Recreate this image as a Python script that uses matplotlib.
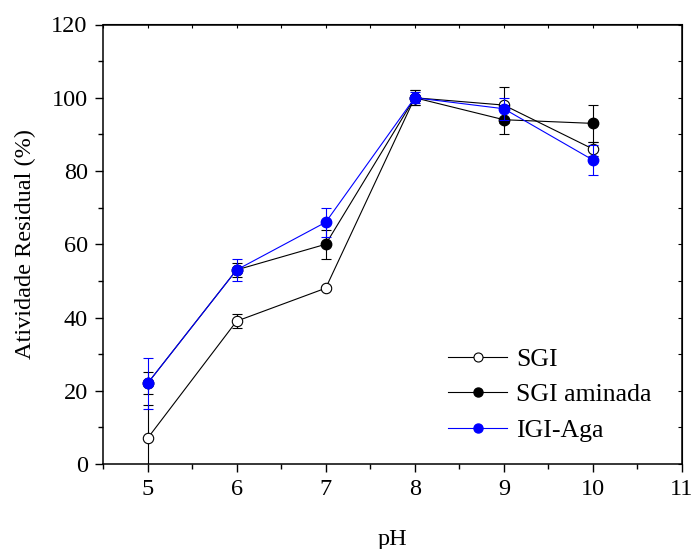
import matplotlib.pyplot as plt
from matplotlib.lines import Line2D
from matplotlib.ticker import MultipleLocator

plt.rcParams['font.family'] = ['Liberation Serif', 'DejaVu Serif']

# Dados
ph = [5, 6, 7, 8, 9, 10]

sgi = [7, 39, 48, 100, 98, 86]
sgi_err = [9, 2, 0.5, 2, 5, 2]

sgi_amin = [22, 53, 60, 100, 94, 93]
sgi_amin_err = [3, 2, 4, 2, 4, 5]

igi_aga = [22, 53, 66, 100, 97, 83]
igi_aga_err = [7, 3, 4, 1.5, 3, 4]

labels = ['SGI', 'SGI aminada', 'IGI-Aga']
BLUE = '#0000ff'

fig = plt.figure(figsize=(6.94, 5.49), dpi=100)
ax = fig.add_axes([103 / 694, 85 / 549, 579 / 694, 439.5 / 549])

common = dict(capsize=3.5, elinewidth=0.8, capthick=0.8, linewidth=0.8,
              markersize=7.5)

ax.errorbar(ph, sgi, yerr=sgi_err, color='black', marker='o',
            markerfacecolor='white', markeredgecolor='black',
            markeredgewidth=0.8, zorder=3, **common)
ax.errorbar(ph, sgi_amin, yerr=sgi_amin_err, color='black', marker='o',
            markerfacecolor='black', markeredgecolor='black',
            zorder=4, **common)
ax.errorbar(ph, igi_aga, yerr=igi_aga_err, color=BLUE, marker='o',
            markerfacecolor=BLUE, markeredgecolor=BLUE,
            zorder=5, **common)

ax.set_xlim(4.5, 11)
ax.set_ylim(0, 120)
ax.xaxis.set_major_locator(MultipleLocator(1))
ax.xaxis.set_minor_locator(MultipleLocator(0.5))
ax.yaxis.set_major_locator(MultipleLocator(20))
ax.yaxis.set_minor_locator(MultipleLocator(10))

ax.tick_params(which='both', direction='out', top=False, right=False,
               labelsize=17.5, width=1)
ax.tick_params(which='major', length=6, pad=5)
ax.tick_params(which='minor', length=3.5)

# ticks internos discretos no topo e à direita
sec_x = ax.secondary_xaxis('top')
sec_x.xaxis.set_major_locator(MultipleLocator(0.5))
sec_x.tick_params(direction='in', length=3, labeltop=False, width=0.8)
sec_y = ax.secondary_yaxis('right')
sec_y.yaxis.set_major_locator(MultipleLocator(10))
sec_y.tick_params(direction='in', length=3, labelright=False, width=0.8)

for s in ax.spines.values():
    s.set_linewidth(1.1)

ax.set_xlabel('pH', fontsize=17.5, labelpad=21)
ax.set_ylabel('Atividade Residual (%)', fontsize=17.5, labelpad=11)

# legenda só com linha + marcador (sem barras de erro)
handles = [
    Line2D([], [], color='black', lw=0.8, marker='o', markersize=6.5,
           markerfacecolor='white', markeredgecolor='black', markeredgewidth=0.8),
    Line2D([], [], color='black', lw=0.8, marker='o', markersize=6.5,
           markerfacecolor='black', markeredgecolor='black'),
    Line2D([], [], color=BLUE, lw=0.8, marker='o', markersize=6.5,
           markerfacecolor=BLUE, markeredgecolor=BLUE),
]
fig.legend(handles, labels, loc='upper left',
           bbox_to_anchor=(448 / 694, 1 - 348 / 549),
           frameon=False, fontsize=18.5, handlelength=2.3,
           handletextpad=0.35, labelspacing=0.48, borderpad=0,
           borderaxespad=0)

fig.savefig('out.png', dpi=100)
